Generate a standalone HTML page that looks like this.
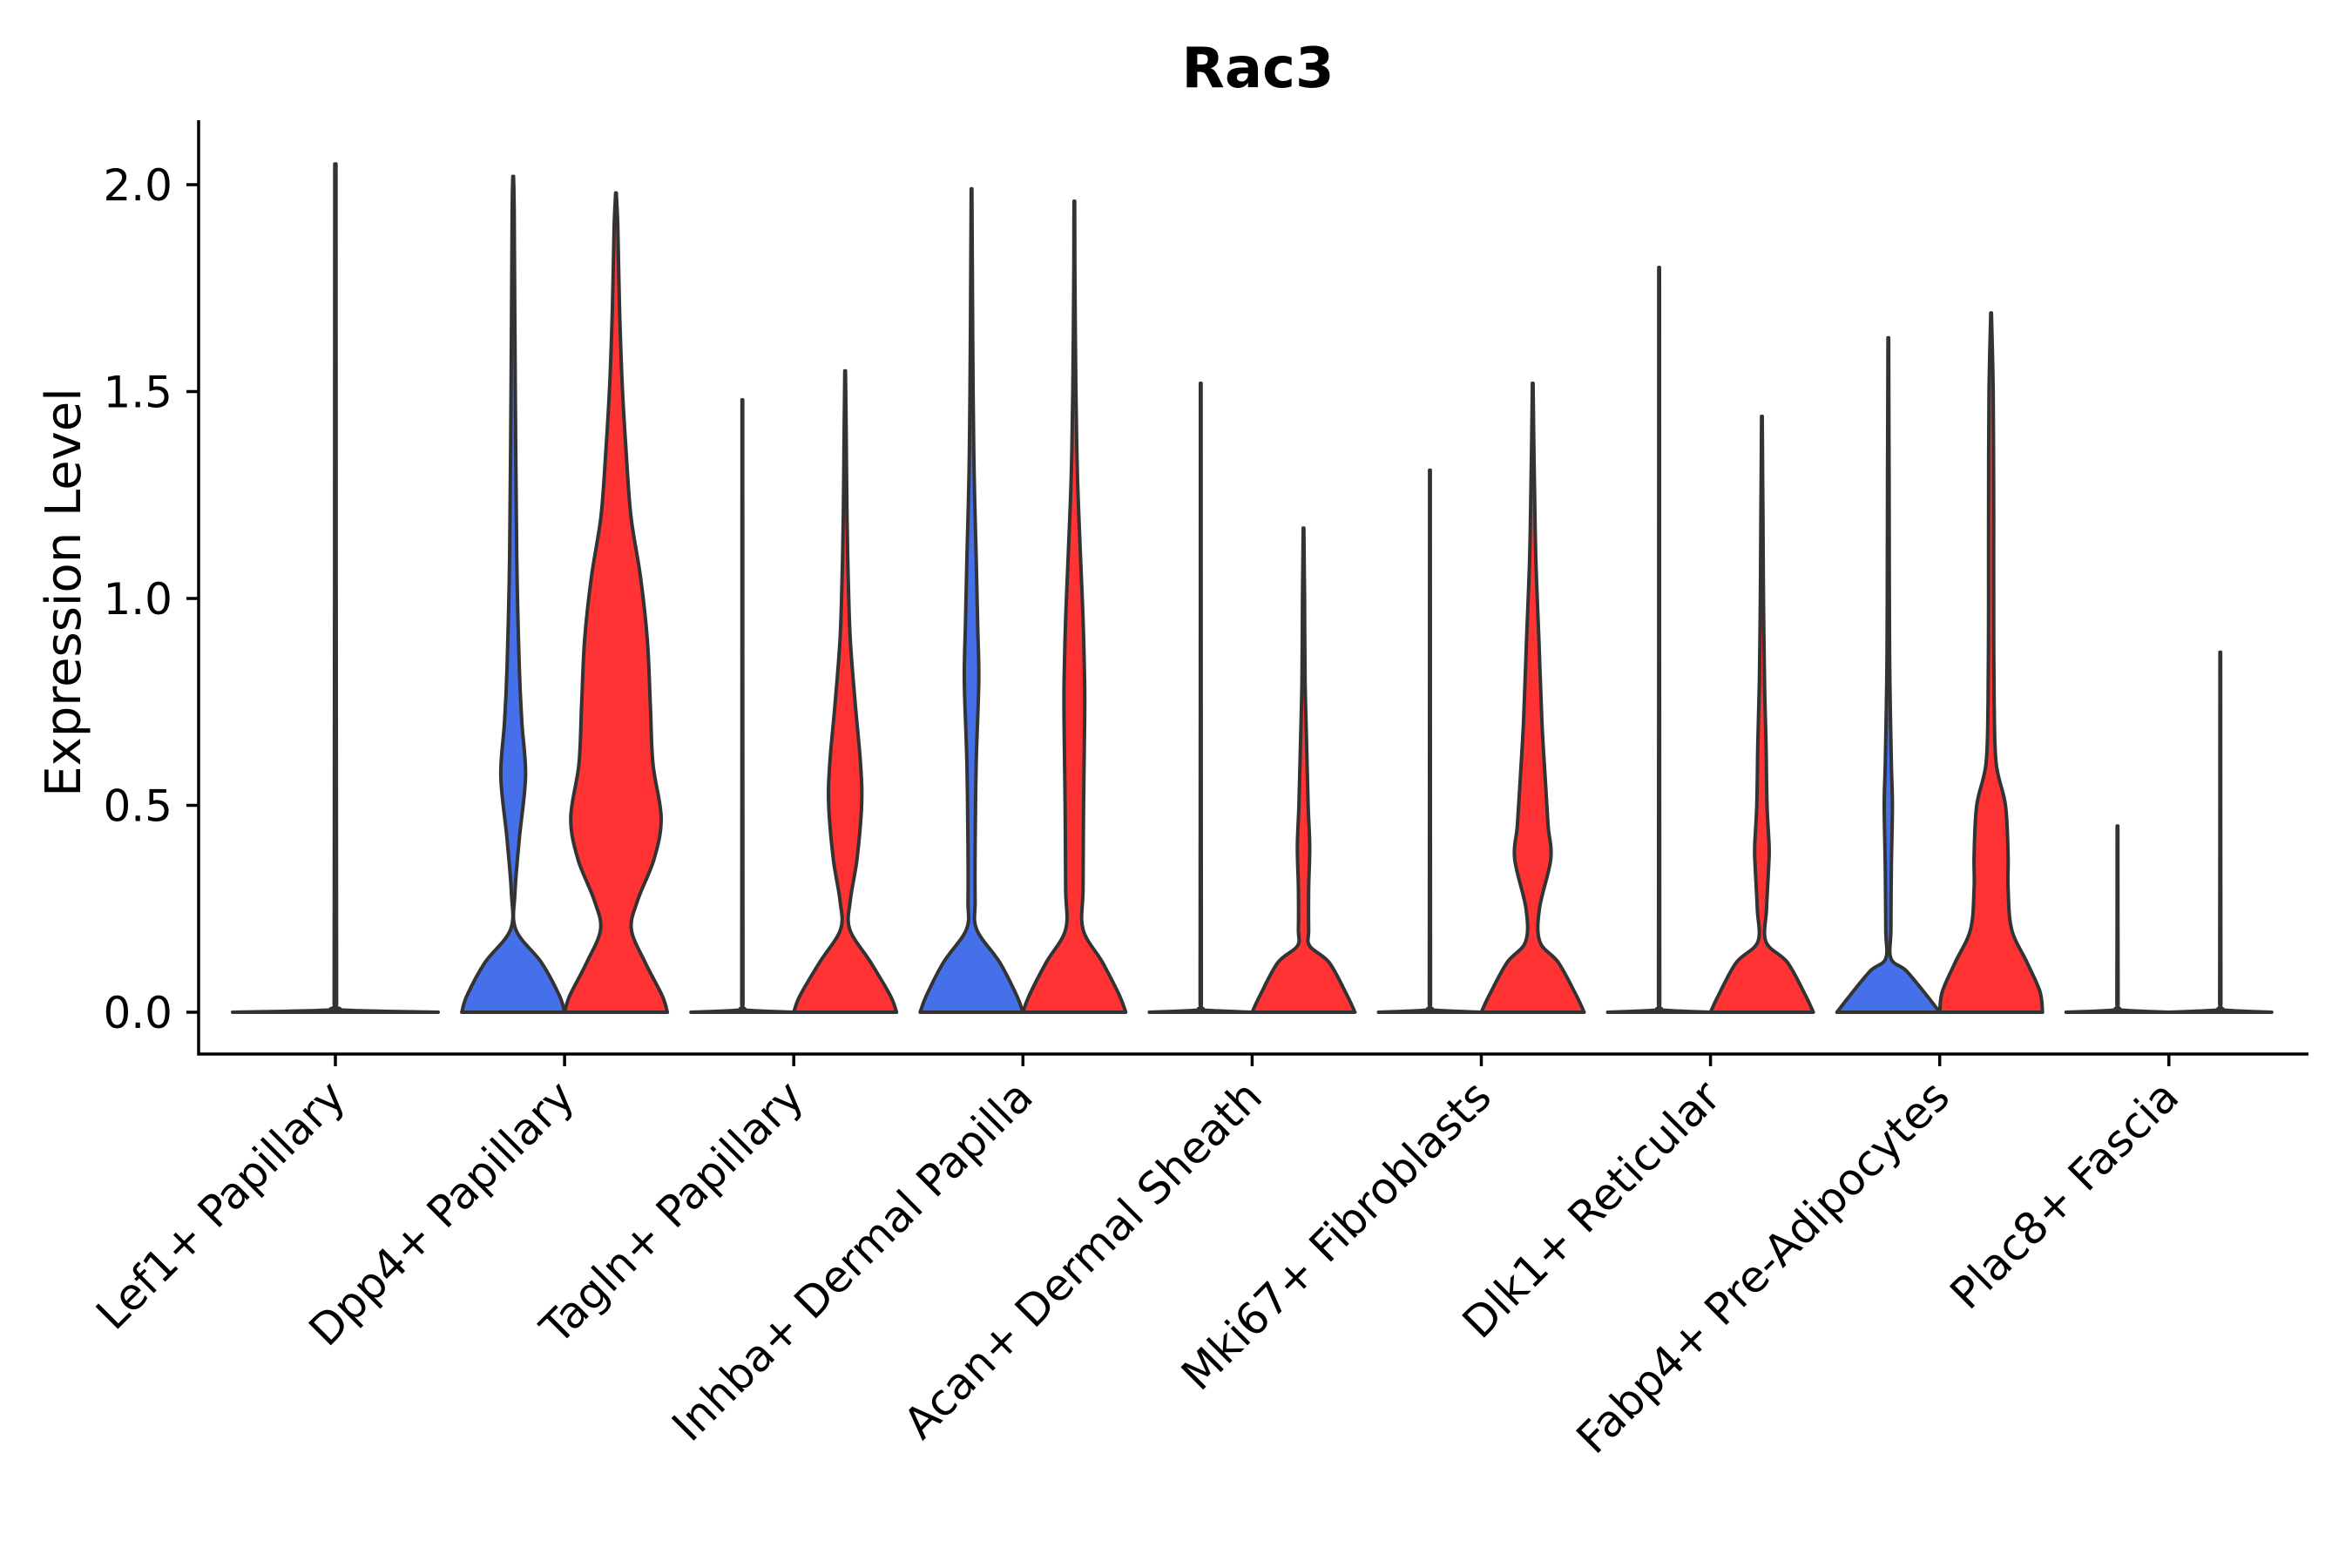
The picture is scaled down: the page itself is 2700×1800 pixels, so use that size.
<!DOCTYPE html>
<html><head><meta charset="utf-8"><style>
html,body{margin:0;padding:0;background:#fff;}
svg{display:block;font-family:"DejaVu Sans","Liberation Sans",sans-serif;}
</style></head>
<body>
<svg id="chart" width="2700" height="1800" viewBox="0 0 2700 1800" xmlns="http://www.w3.org/2000/svg">
<text x="1444" y="100" text-anchor="middle" font-size="64" font-weight="bold">Rac3</text>
<text transform="translate(92,680) rotate(-90)" text-anchor="middle" font-size="56">Expression Level</text>
<g id="marks"></g>
<g id="axes"></g>
</svg>
<script>
const categories = ["Lef1+ Papillary","Dpp4+ Papillary","Tagln+ Papillary","Inhba+ Dermal Papilla","Acan+ Dermal Sheath","Mki67+ Fibroblasts","Dlk1+ Reticular","Fabp4+ Pre-Adipocytes","Plac8+ Fascia"];
const leftMax = [2.05, 2.02, 1.48, 1.99, 1.52, 1.31, 1.80, 1.63, 0.45];
const rightMax = [null, 1.98, 1.55, 1.96, 1.17, 1.52, 1.44, 1.69, 0.87];
const leftColor = [null, "blue", null, "blue", null, null, null, "blue", null];
const rightColor = [null, "red", "red", "red", "red", "red", "red", "red", null];
const flatProfile = [[0,1],[0.006,0.03],[0.02,0.012]];
const leftProfiles = [
  flatProfile,
  [[0,1],[0.04,0.9],[0.12,0.55],[0.2,0.05],[0.29,0.035],[0.42,0.12],[0.57,0.24],[0.7,0.17],[0.83,0.12],[1.1,0.07],[1.52,0.04],[1.93,0.02]],
  flatProfile,
  [[0,1],[0.04,0.88],[0.12,0.55],[0.2,0.1],[0.27,0.07],[0.4,0.07],[0.6,0.09],[0.8,0.14],[0.93,0.12],[1.1,0.09],[1.3,0.05],[1.5,0.03],[1.8,0.015]],
  flatProfile, flatProfile, flatProfile,
  [[0,1],[0.04,0.75],[0.1,0.35],[0.13,0.05],[0.2,0.05],[0.35,0.06],[0.5,0.08],[0.6,0.06],[0.8,0.03],[1.0,0.02],[1.3,0.015]],
  flatProfile
];
const rightProfiles = [
  null,
  [[0,1],[0.04,0.9],[0.12,0.57],[0.2,0.3],[0.27,0.42],[0.37,0.74],[0.47,0.88],[0.6,0.72],[0.74,0.67],[0.9,0.61],[1.05,0.48],[1.2,0.29],[1.37,0.19],[1.52,0.12],[1.7,0.07],[1.9,0.035]],
  [[0,1],[0.04,0.88],[0.12,0.5],[0.2,0.09],[0.27,0.1],[0.37,0.23],[0.5,0.32],[0.6,0.3],[0.74,0.2],[0.9,0.1],[1.05,0.06],[1.2,0.035],[1.4,0.02]],
  [[0,1],[0.04,0.88],[0.12,0.55],[0.2,0.17],[0.3,0.17],[0.5,0.18],[0.7,0.2],[0.8,0.2],[0.95,0.17],[1.1,0.12],[1.3,0.06],[1.5,0.03],[1.8,0.01]],
  [[0,1],[0.04,0.85],[0.12,0.5],[0.16,0.12],[0.2,0.1],[0.3,0.1],[0.4,0.12],[0.5,0.09],[0.65,0.06],[0.8,0.03],[1.0,0.02]],
  [[0,1],[0.04,0.85],[0.12,0.5],[0.17,0.14],[0.25,0.13],[0.37,0.35],[0.45,0.3],[0.55,0.25],[0.7,0.18],[0.9,0.12],[1.1,0.06],[1.3,0.03]],
  [[0,1],[0.04,0.85],[0.12,0.5],[0.17,0.08],[0.25,0.09],[0.35,0.13],[0.4,0.14],[0.5,0.1],[0.65,0.08],[0.8,0.05],[1.0,0.03],[1.2,0.02]],
  [[0,1],[0.05,0.95],[0.12,0.7],[0.2,0.4],[0.3,0.33],[0.38,0.33],[0.5,0.28],[0.6,0.1],[0.75,0.06],[1.0,0.05],[1.2,0.05],[1.5,0.04]],
  flatProfile
];
const yTicks = [0, 0.5, 1.0, 1.5, 2.0];
const yTickLabels = ["0.0","0.5","1.0","1.5","2.0"];

const NS = "http://www.w3.org/2000/svg";
const X0 = 385, DX = 263.1, HALF = 59;
const Y0 = 1162, PERUNIT = 475;
const axL = 228, axB = 1210, axR = 2650, axT = 138;
const fills = {blue:"#466FEA", red:"#FF3333"};
function xScale(i){ return X0 + i*DX; }
function yScale(v){ return Y0 - v*PERUNIT; }
const marks = document.getElementById('marks');
const axes = document.getElementById('axes');

function clampY(y, a, b){ const lo = Math.min(a,b), hi = Math.max(a,b); return Math.max(lo, Math.min(hi, y)); }
function smooth(pts){
  let d = "M" + pts[0][0].toFixed(1) + "," + pts[0][1].toFixed(1);
  for (let k = 0; k < pts.length - 1; k++) {
    const p0 = pts[Math.max(k-1,0)], p1 = pts[k], p2 = pts[k+1], p3 = pts[Math.min(k+2, pts.length-1)];
    const c1 = [p1[0] + (p2[0]-p0[0])/6, clampY(p1[1] + (p2[1]-p0[1])/6, p1[1], p2[1])];
    const c2 = [p2[0] - (p3[0]-p1[0])/6, clampY(p2[1] - (p3[1]-p1[1])/6, p1[1], p2[1])];
    d += " C" + c1[0].toFixed(1) + "," + c1[1].toFixed(1) + " " + c2[0].toFixed(1) + "," + c2[1].toFixed(1) + " " + p2[0].toFixed(1) + "," + p2[1].toFixed(1);
  }
  return d;
}
function violinPath(cx, hw, profile, max){
  const pts = profile.filter(p => p[0] < max).slice();
  pts.push([max, 0.006]);
  const left = pts.map(p => [cx - p[1]*hw, yScale(p[0])]);
  const right = pts.slice().reverse().map(p => [cx + p[1]*hw, yScale(p[0])]);
  const l = smooth(left);
  const r = smooth(right).replace(/^M/, " L");
  return l + r + " Z";
}
function drawViolin(i, side, cx, hw, profile, max, color){
  const p = document.createElementNS(NS, "path");
  
  
  p.setAttribute("d", violinPath(cx, hw, profile, max));
  p.setAttribute("fill", color ? fills[color] : "#333");
  p.setAttribute("stroke", "#333");
  p.setAttribute("stroke-width", "4");
  p.setAttribute("stroke-linejoin", "round");
  marks.appendChild(p);
}
categories.forEach((c, i) => {
  const x = xScale(i);
  if (rightMax[i] === null) {
    drawViolin(i, 'single', x, HALF*2, leftProfiles[i], leftMax[i], leftColor[i]);
  } else {
    drawViolin(i, 'left', x - HALF, HALF, leftProfiles[i], leftMax[i], leftColor[i]);
    drawViolin(i, 'right', x + HALF, HALF, rightProfiles[i], rightMax[i], rightColor[i]);
  }
});

function line(x1,y1,x2,y2,name){
  const l = document.createElementNS(NS, "line");
  
  
  l.setAttribute("x1",x1);l.setAttribute("y1",y1);l.setAttribute("x2",x2);l.setAttribute("y2",y2);
  l.setAttribute("stroke","#000");l.setAttribute("stroke-width","3.5");
  axes.appendChild(l);
}
line(axL, axT, axL, axB+1.5, 'y-axis-line');
line(axL-1.5, axB, axR, axB, 'x-axis-line');
yTicks.forEach((v, k) => {
  const y = yScale(v);
  line(axL-14, y, axL, y, 'y-tick');
  const t = document.createElementNS(NS, "text");
  
  
  t.setAttribute("x", axL-30); t.setAttribute("y", y+18);
  t.setAttribute("text-anchor","end"); t.setAttribute("font-size","50");
  t.textContent = yTickLabels[k];
  axes.appendChild(t);
});
categories.forEach((c, i) => {
  const x = xScale(i);
  line(x, axB, x, axB+14, 'x-tick');
  const t = document.createElementNS(NS, "text");
  
  
  t.setAttribute("transform", "translate(" + (x+14) + "," + 1262 + ") rotate(-45)");
  t.setAttribute("text-anchor","end"); t.setAttribute("font-size","50");
  t.textContent = c;
  axes.appendChild(t);
});
</script>
</body></html>
